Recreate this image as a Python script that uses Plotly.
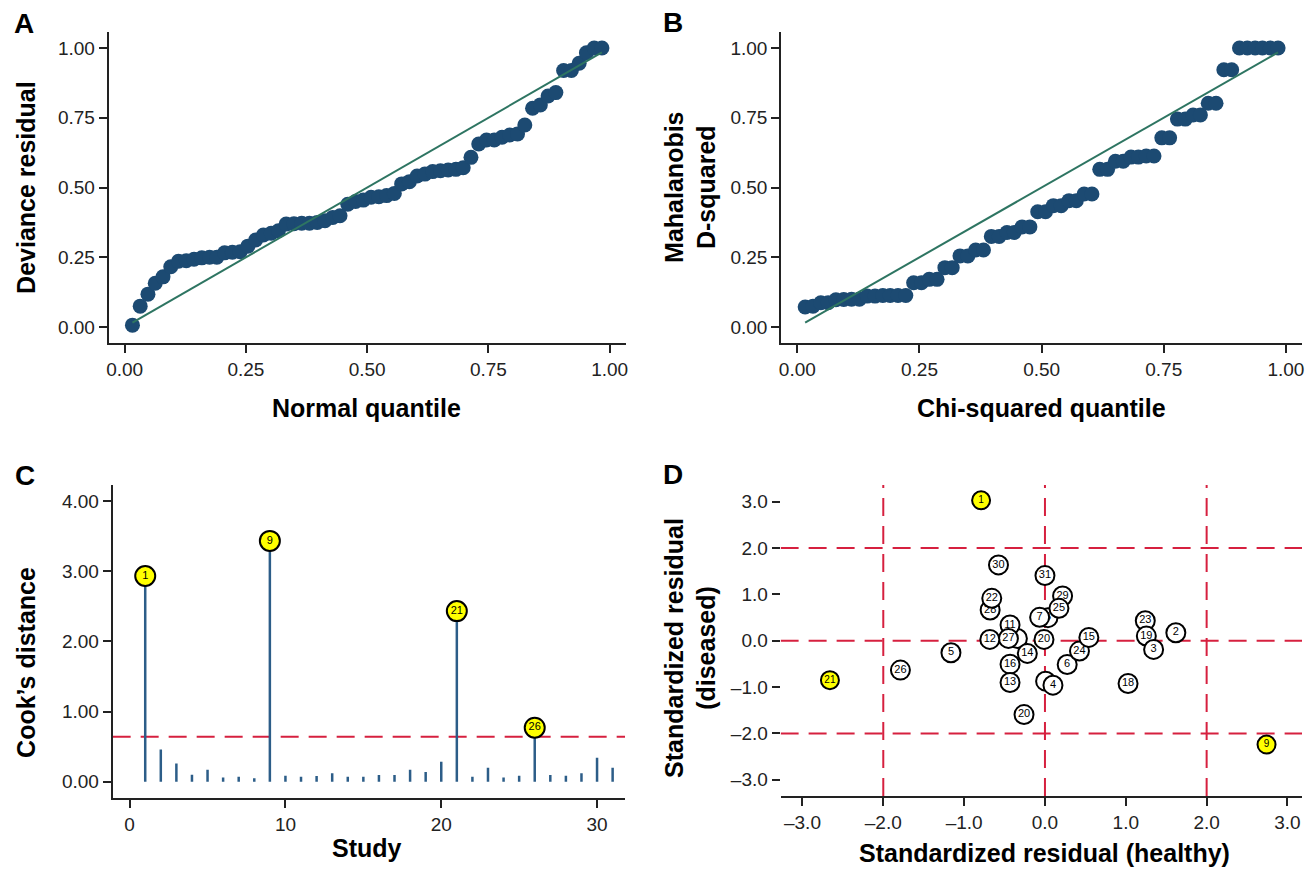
import plotly.graph_objects as go

# ---------------- data ----------------
# Panel A / B : quantile plots (62 points)
quantile_x = [0.016, 0.032, 0.048, 0.063, 0.079, 0.095, 0.111, 0.127, 0.143, 0.159,
              0.175, 0.190, 0.206, 0.222, 0.238, 0.254, 0.270, 0.286, 0.302, 0.317,
              0.333, 0.349, 0.365, 0.381, 0.397, 0.413, 0.429, 0.444, 0.460, 0.476,
              0.492, 0.508, 0.524, 0.540, 0.556, 0.571, 0.587, 0.603, 0.619, 0.635,
              0.651, 0.667, 0.683, 0.698, 0.714, 0.730, 0.746, 0.762, 0.778, 0.794,
              0.810, 0.825, 0.841, 0.857, 0.873, 0.889, 0.905, 0.921, 0.937, 0.952,
              0.968, 0.984]
deviance_residual = [0.007, 0.075, 0.118, 0.157, 0.180, 0.216, 0.236, 0.238, 0.243, 0.248,
                     0.250, 0.250, 0.266, 0.268, 0.270, 0.290, 0.312, 0.330, 0.336, 0.345,
                     0.369, 0.370, 0.372, 0.372, 0.375, 0.381, 0.393, 0.399, 0.440, 0.450,
                     0.455, 0.465, 0.467, 0.471, 0.479, 0.513, 0.521, 0.541, 0.548, 0.557,
                     0.560, 0.563, 0.565, 0.571, 0.608, 0.656, 0.670, 0.670, 0.680, 0.688,
                     0.692, 0.724, 0.784, 0.796, 0.828, 0.840, 0.919, 0.919, 0.945, 0.983,
                     1.000, 1.000]
mahalanobis_d2 = [0.072, 0.075, 0.087, 0.087, 0.098, 0.099, 0.100, 0.100, 0.111, 0.111,
                  0.113, 0.113, 0.113, 0.113, 0.159, 0.159, 0.171, 0.171, 0.213, 0.213,
                  0.255, 0.255, 0.276, 0.276, 0.325, 0.325, 0.339, 0.339, 0.359, 0.359,
                  0.413, 0.413, 0.435, 0.435, 0.453, 0.453, 0.477, 0.477, 0.565, 0.565,
                  0.594, 0.594, 0.609, 0.609, 0.613, 0.613, 0.678, 0.678, 0.745, 0.745,
                  0.760, 0.760, 0.802, 0.802, 0.922, 0.922, 1.000, 1.000, 1.000, 1.000,
                  1.000, 1.000]
reference_line = [0.016, 0.984]
quantile_ticks = [0, 0.25, 0.5, 0.75, 1.0]

# Panel C : Cook's distance per study
studies = list(range(1, 32))
cooks_distance = [2.93, 0.46, 0.26, 0.10, 0.17, 0.06, 0.07, 0.05, 3.43, 0.085,
                  0.07, 0.08, 0.12, 0.07, 0.07, 0.095, 0.095, 0.17, 0.14, 0.285,
                  2.43, 0.07, 0.20, 0.06, 0.085, 0.77, 0.095, 0.085, 0.12, 0.34,
                  0.20]
cooks_threshold = 0.64
influential_studies = [1, 9, 21, 26]
cooks_ticks = [0, 1, 2, 3, 4]
study_ticks = [0, 10, 20, 30]

# Panel D : standardized residuals (label, healthy, diseased), in drawing order
# (the two circles hidden behind "27" and "4" show no readable label)
resid_labels = ["", "", "8", "7", "29", "25", "30", "31", "28", "22",
                "11", "27", "12", "20", "14", "16", "13", "20", "4", "6",
                "24", "15", "18", "23", "19", "3", "2", "5", "26"]
resid_healthy = [-0.341, 0.008, 0.037, -0.066, 0.218, 0.173, -0.575, 0.000, -0.678, -0.658,
                 -0.432, -0.452, -0.682, -0.012, -0.218, -0.432, -0.432, -0.259, 0.099, 0.275,
                 0.427, 0.543, 1.028, 1.241, 1.254, 1.344, 1.619, -1.163, -1.788]
resid_diseased = [0.050, -0.872, 0.497, 0.505, 0.966, 0.699, 1.636, 1.405, 0.663, 0.915,
                  0.339, 0.050, 0.029, 0.029, -0.274, -0.505, -0.901, -1.593, -0.959, -0.512,
                  -0.223, 0.072, -0.923, 0.432, 0.101, -0.187, 0.173, -0.259, -0.634]
outlier_labels = ["1", "21", "9"]
outlier_healthy = [-0.79, -2.66, 2.741]
outlier_diseased = [3.03, -0.85, -2.24]
resid_guides = [-2, 0, 2]
resid_ticks = [-3, -2, -1, 0, 1, 2, 3]
resid_ticktext = ["\u20133.0", "\u20132.0", "\u20131.0", "0.0", "1.0", "2.0", "3.0"]

# ---------------- styles ----------------
FONT = "Liberation Sans, Arial, Helvetica, sans-serif"
DOT = "#1c4a72"
GREEN = "#2e7562"
STEM = "#2c5d88"
RED = "#d6203f"
AX = "#222222"
W, H = 1312, 873


def px_x(p):
    return p / W


def px_y(p):
    return 1 - p / H


fig = go.Figure()

# Panel A
fig.add_trace(go.Scatter(x=quantile_x, y=deviance_residual, mode="markers",
                         marker=dict(size=15, color=DOT), xaxis="x", yaxis="y",
                         showlegend=False))
fig.add_trace(go.Scatter(x=reference_line, y=reference_line, mode="lines",
                         line=dict(color=GREEN, width=2), xaxis="x", yaxis="y",
                         showlegend=False))
# Panel B
fig.add_trace(go.Scatter(x=quantile_x, y=mahalanobis_d2, mode="markers",
                         marker=dict(size=15, color=DOT), xaxis="x2", yaxis="y2",
                         showlegend=False))
fig.add_trace(go.Scatter(x=reference_line, y=reference_line, mode="lines",
                         line=dict(color=GREEN, width=2), xaxis="x2", yaxis="y2",
                         showlegend=False))

# Panel C: threshold then stems
fig.add_trace(go.Scatter(x=[-1.09, 31.8], y=[cooks_threshold, cooks_threshold], mode="lines",
                         line=dict(color=RED, width=2, dash="18px,10px"),
                         xaxis="x3", yaxis="y3", showlegend=False))
stem_x, stem_y = [], []
for s, v in zip(studies, cooks_distance):
    stem_x += [s, s, None]
    stem_y += [0, v, None]
fig.add_trace(go.Scatter(x=stem_x, y=stem_y, mode="lines",
                         line=dict(color=STEM, width=2.5), xaxis="x3", yaxis="y3",
                         showlegend=False))
inf_y = [cooks_distance[s - 1] for s in influential_studies]
fig.add_trace(go.Scatter(x=influential_studies, y=inf_y, mode="markers+text",
                         text=[str(s) for s in influential_studies],
                         textposition="middle center",
                         textfont=dict(family=FONT, size=11, color="black"),
                         marker=dict(size=20, color="#ffff00",
                                     line=dict(color="black", width=2)),
                         xaxis="x3", yaxis="y3", showlegend=False))

# Panel D: guide lines
for g in resid_guides:
    fig.add_trace(go.Scatter(x=[g, g], y=[-3.35, 3.36], mode="lines",
                             line=dict(color=RED, width=2, dash="18px,10px"),
                             xaxis="x4", yaxis="y4", showlegend=False))
    fig.add_trace(go.Scatter(x=[-3.27, 3.18], y=[g, g], mode="lines",
                             line=dict(color=RED, width=2, dash="18px,10px"),
                             xaxis="x4", yaxis="y4", showlegend=False))
for lab, hx, dy in zip(resid_labels, resid_healthy, resid_diseased):
    fig.add_trace(go.Scatter(x=[hx], y=[dy], mode="markers+text", text=[lab],
                             textposition="middle center",
                             textfont=dict(family=FONT, size=11, color="black"),
                             marker=dict(size=19, color="white",
                                         line=dict(color="black", width=2)),
                             xaxis="x4", yaxis="y4", showlegend=False))
fig.add_trace(go.Scatter(x=outlier_healthy, y=outlier_diseased, mode="markers+text",
                         text=outlier_labels, textposition="middle center",
                         textfont=dict(family=FONT, size=10, color="black"),
                         marker=dict(size=18, color="#ffff00",
                                     line=dict(color="black", width=2)),
                         xaxis="x4", yaxis="y4", showlegend=False))

axis_common = dict(showline=True, linecolor=AX, linewidth=2, ticks="outside",
                   ticklen=8, tickwidth=2, tickcolor=AX, showgrid=False,
                   zeroline=False, tickfont=dict(family=FONT, size=19, color=AX))

fig.update_layout(
    width=W, height=H, margin=dict(l=0, r=0, t=0, b=0),
    paper_bgcolor="white", plot_bgcolor="white",
    font=dict(family=FONT),
    xaxis=dict(domain=[px_x(107), px_x(625.6)], range=[-0.033, 1.033],
               tickvals=quantile_ticks, tickformat=".2f", anchor="y", **axis_common),
    yaxis=dict(domain=[px_y(343.3), px_y(32.3)], range=[-0.058, 1.056],
               tickvals=quantile_ticks, tickformat=".2f", anchor="x", **axis_common),
    xaxis2=dict(domain=[px_x(781.6), px_x(1304)], range=[-0.033, 1.033],
                tickvals=quantile_ticks, tickformat=".2f", anchor="y2", **axis_common),
    yaxis2=dict(domain=[px_y(343.3), px_y(32.3)], range=[-0.058, 1.056],
                tickvals=quantile_ticks, tickformat=".2f", anchor="x2", **axis_common),
    xaxis3=dict(domain=[px_x(111), px_x(625)], range=[-1.09, 31.8],
                tickvals=study_ticks, anchor="y3", **axis_common),
    yaxis3=dict(domain=[px_y(798.3), px_y(485)], range=[-0.236, 4.226],
                tickvals=cooks_ticks, tickformat=".2f", anchor="x3", **axis_common),
    xaxis4=dict(domain=[px_x(781), px_x(1304)], range=[-3.27, 3.18],
                tickvals=resid_ticks, ticktext=resid_ticktext, anchor="y4", **axis_common),
    yaxis4=dict(domain=[px_y(796), px_y(485)], range=[-3.35, 3.36],
                tickvals=resid_ticks, ticktext=resid_ticktext, anchor="x4",
                **{**axis_common, "showline": False}),
)

TITLE = dict(family=FONT, size=25, color="black")
LETTER = dict(family=FONT, size=28, color="black")


def ann(text, x, y, font, angle=0):
    fig.add_annotation(text=text, x=px_x(x), y=px_y(y), xref="paper", yref="paper",
                       showarrow=False, font=font, textangle=angle,
                       xanchor="center", yanchor="middle")


ann("<b>A</b>", 22, 23, LETTER)
ann("<b>B</b>", 673, 22, LETTER)
ann("<b>C</b>", 23, 476, LETTER)
ann("<b>D</b>", 673, 475, LETTER)

ann("<b>Deviance residual</b>", 24, 187, TITLE, -90)
ann("<b>Normal quantile</b>", 366, 408, TITLE)
ann("<b>Mahalanobis<br>D-squared</b>", 690, 187, TITLE, -90)
ann("<b>Chi-squared quantile</b>", 1043, 408, TITLE)
ann("<b>Cook\u2019s distance</b>", 24, 662, TITLE, -90)
ann("<b>Study</b>", 366, 848, TITLE)
ann("<b>Standardized residual<br>(diseased)</b>", 690, 648, TITLE, -90)
ann("<b>Standardized residual (healthy)</b>", 1046, 853, TITLE)

fig.write_html("out.html")
